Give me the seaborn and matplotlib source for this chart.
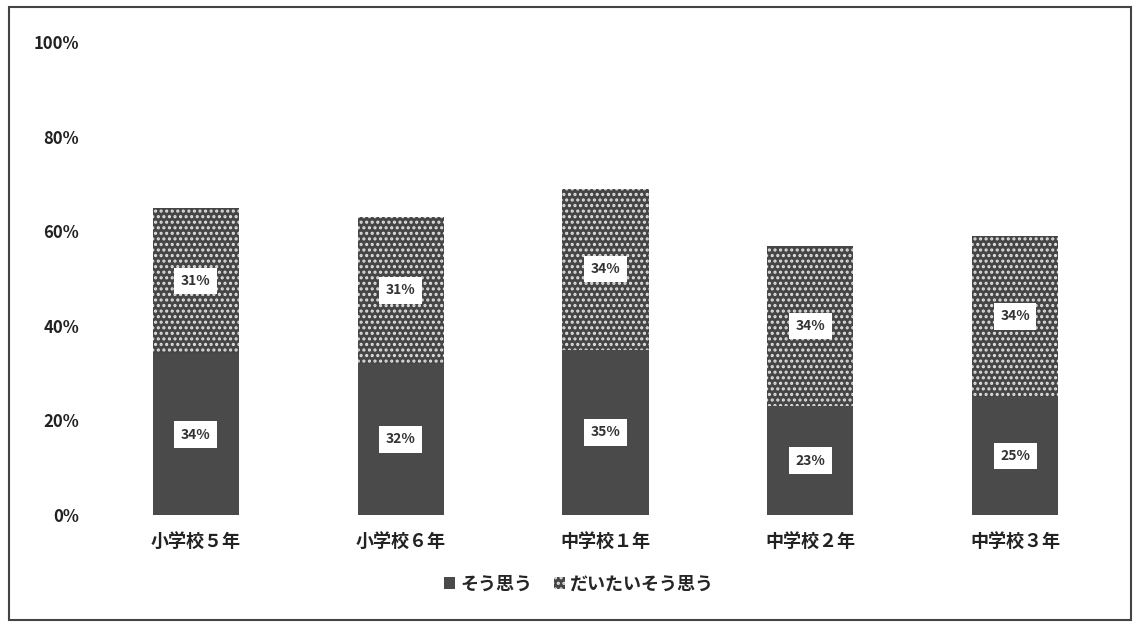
import matplotlib
matplotlib.use("Agg")
import matplotlib.pyplot as plt
import matplotlib.patches as mpatches
import seaborn as sns
import pandas as pd

categories = ["小学校５年", "小学校６年", "中学校１年", "中学校２年", "中学校３年"]
sou_omou = [34, 32, 35, 23, 25]          # そう思う
daitai = [31, 31, 34, 34, 34]             # だいたいそう思う
series_names = ["そう思う", "だいたいそう思う"]
yticks = [0, 20, 40, 60, 80, 100]

sns.set_theme(style="white")
plt.rcParams['font.family'] = ['Noto Sans CJK JP', 'DejaVu Sans']
plt.rcParams['hatch.linewidth'] = 1.5

df = pd.DataFrame({
    "cat": categories,
    "bottom": sou_omou,
    "total": [a + b for a, b in zip(sou_omou, daitai)],
})

fig = plt.figure(figsize=(11.36, 6.22), dpi=100)
ax = fig.add_axes([0.082, 0.172, 0.902, 0.760])

dark = "#4a4a4a"
hatch_face = "#454545"
hatch_col = "#e0e0e0"

sns.barplot(data=df, x="cat", y="total", ax=ax, color=hatch_face, width=0.42,
            saturation=1, hatch="...", edgecolor=hatch_col, linewidth=0)
sns.barplot(data=df, x="cat", y="bottom", ax=ax, color=dark, width=0.42,
            saturation=1, linewidth=0)

for i, (b, t) in enumerate(zip(sou_omou, daitai)):
    ax.text(i, b / 2, f"{b}%", ha="center", va="center", fontsize=10, fontweight="bold",
            color="#333333",
            bbox=dict(boxstyle="square,pad=0.45", fc="white", ec="none"))
    ax.text(i, b + t / 2, f"{t}%", ha="center", va="center", fontsize=10, fontweight="bold",
            color="#333333",
            bbox=dict(boxstyle="square,pad=0.45", fc="white", ec="none"))

ax.set_ylim(0, 100)
ax.set_xlim(-0.5, 4.5)
ax.set_yticks(yticks)
ax.set_yticklabels([f"{v}%" for v in yticks], fontsize=12, fontweight="bold", color="#222222")
ax.tick_params(axis="y", pad=10, length=0)
ax.tick_params(axis="x", pad=12, length=0)
for lab in ax.get_xticklabels():
    lab.set_fontsize(13)
    lab.set_fontweight("bold")
    lab.set_color("#222222")
ax.set_xlabel("")
ax.set_ylabel("")
for s in ax.spines.values():
    s.set_visible(False)
ax.grid(False)

handles = [
    mpatches.Patch(facecolor=dark, edgecolor="none", label=series_names[0]),
    mpatches.Patch(facecolor=hatch_face, edgecolor=hatch_col, linewidth=0, hatch="...", label=series_names[1]),
]
leg = fig.legend(handles=handles, loc="center", bbox_to_anchor=(0.51, 0.061), ncol=2,
                 frameon=False, handlelength=0.6, handleheight=0.6, handletextpad=0.3,
                 columnspacing=1.2, prop={"size": 13, "weight": "bold"})

border = mpatches.Rectangle((0.008, 0.004), 0.988, 0.984, transform=fig.transFigure,
                            fill=False, edgecolor="#444444", linewidth=1.5)
fig.patches.append(border)

fig.savefig("out.png", dpi=100)
